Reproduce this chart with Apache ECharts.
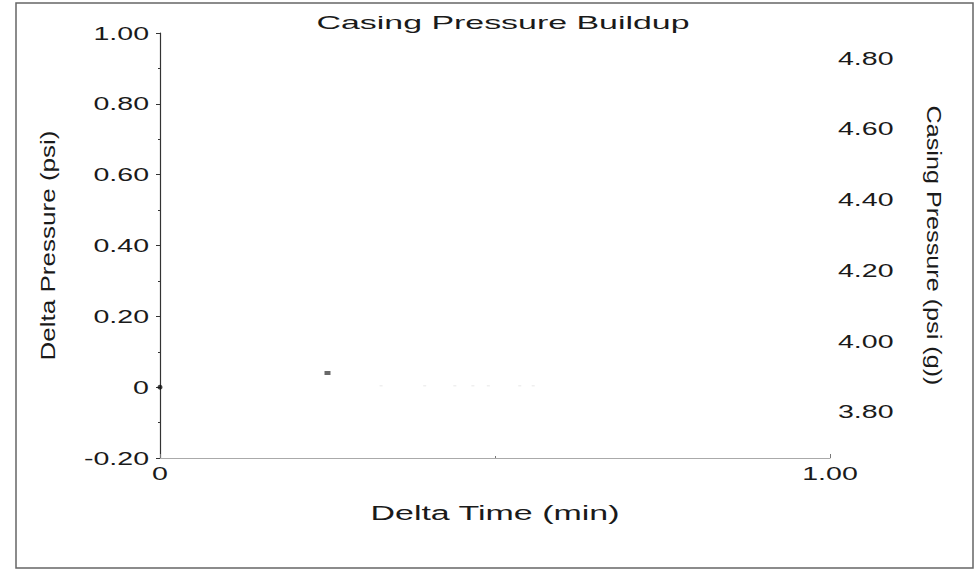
<!DOCTYPE html>
<html>
<head>
<meta charset="utf-8">
<script src="https://cdn.jsdelivr.net/npm/echarts@6/dist/echarts.min.js"></script>
<style>
  html, body { margin: 0; padding: 0; background: #fff; }
  #chart { width: 976px; height: 571px; }
</style>
</head>
<body>
<div id="chart"></div>
<script>
// ---- data ----
const titleText = 'Casing Pressure Buildup';
const xName = 'Delta Time (min)';
const yNameLeft = 'Delta Pressure (psi)';
const yNameRight = 'Casing Pressure (psi (g))';

const deltaTime = [0, 0.25];
const deltaPressure = [0, 0.04];

const fadedTime = [0.33, 0.395, 0.44, 0.467, 0.49, 0.537, 0.557];
const fadedPressure = [0.004, 0.004, 0.004, 0.004, 0.004, 0.004, 0.004];

const rightTicks = [3.8, 4.0, 4.2, 4.4, 4.6, 4.8];
const rightMin = 3.670;
const rightMax = 4.871;

const fmt = v => (Math.abs(v) < 1e-9 ? '0' : v.toFixed(2));
const FONT = 'Liberation Sans';
const TXT = '#1a1a1a';

const chart = echarts.init(document.getElementById('chart'), null, { renderer: 'svg' });

const option = {
  animation: false,
  backgroundColor: '#fff',
  title: {
    text: titleText,
    left: 498, top: 8, textAlign: 'center',
    textStyle: { fontFamily: FONT, fontSize: 19, fontWeight: 'normal', color: TXT }
  },
  graphic: [{
    type: 'rect', silent: true,
    shape: { x: 16, y: 3, width: 957, height: 565 },
    style: { fill: 'none', stroke: '#666', lineWidth: 1.5 }
  }],
  grid: { left: 160, right: 146, top: 33, bottom: 113 },
  xAxis: {
    type: 'value', min: 0, max: 1, interval: 1,
    name: xName, nameLocation: 'middle', nameGap: 45,
    nameTextStyle: { fontFamily: FONT, fontSize: 20, color: TXT },
    axisLine: { show: true, onZero: false, lineStyle: { color: '#aaa', width: 1 } },
    axisTick: { show: true, inside: true, length: 4, lineStyle: { color: '#777' } },
    minorTick: { show: true, splitNumber: 2, length: 2, lineStyle: { color: '#777' } },
    axisLabel: { fontFamily: FONT, fontSize: 19, color: TXT, margin: 6, formatter: fmt },
    splitLine: { show: false }
  },
  yAxis: [{
    type: 'value', min: -0.2, max: 1.0, interval: 0.2, position: 'left',
    name: yNameLeft, nameLocation: 'middle', nameGap: 102,
    nameTextStyle: { fontFamily: FONT, fontSize: 21, color: TXT },
    axisLine: { show: true, onZero: false, lineStyle: { color: '#333', width: 1.2 } },
    axisTick: { show: true, length: 4, lineStyle: { color: '#333' } },
    minorTick: { show: true, splitNumber: 2, length: 2, lineStyle: { color: '#333' } },
    axisLabel: { fontFamily: FONT, fontSize: 19, color: TXT, margin: 11, formatter: fmt },
    splitLine: { show: false }
  }, {
    type: 'value', min: rightMin, max: rightMax, position: 'right',
    name: yNameRight, nameLocation: 'middle', nameGap: 94, nameRotate: -90,
    nameTextStyle: { fontFamily: FONT, fontSize: 21, color: TXT },
    axisLine: { show: false },
    axisTick: { show: false },
    axisLabel: {
      fontFamily: FONT, fontSize: 19, color: TXT, margin: 8,
      customValues: rightTicks, formatter: v => v.toFixed(2)
    },
    splitLine: { show: false }
  }],
  series: [{
    type: 'scatter', yAxisIndex: 0, silent: true,
    data: fadedTime.map((t, i) => [t, fadedPressure[i]]),
    symbol: 'rect', symbolSize: [3, 1.5],
    itemStyle: { color: '#ebebeb' }
  }, {
    type: 'scatter', yAxisIndex: 0, silent: true,
    data: deltaTime.slice(0, 1).map((t, i) => [t, deltaPressure[i]]),
    symbol: 'circle', symbolSize: 5,
    itemStyle: { color: '#111' }
  }, {
    type: 'scatter', yAxisIndex: 0, silent: true,
    data: deltaTime.slice(1).map((t, i) => [t, deltaPressure[i + 1]]),
    symbol: 'rect', symbolSize: [6, 4],
    itemStyle: { color: '#444' }
  }]
};
chart.setOption(option);

// stretch text horizontally to match the scanned reference proportions
const targets = {};
targets[titleText] = 373;
targets[xName] = 249;
targets[yNameLeft] = 230;
targets[yNameRight] = 280;
function stretchTexts() {
  document.querySelectorAll('#chart svg text').forEach(t => {
    if (t.getAttribute('data-stretched')) return;
    const s = (t.textContent || '').trim();
    if (!s) return;
    const w = t.getComputedTextLength();
    if (!w) return;
    let target = targets[s];
    if (target === undefined) target = w * 1.5;
    t.setAttribute('textLength', target.toFixed(1));
    t.setAttribute('lengthAdjust', 'spacingAndGlyphs');
    t.setAttribute('data-stretched', '1');
  });
}
const zr = chart.getZr();
if (zr.refreshImmediately) zr.refreshImmediately();
stretchTexts();
chart.on('finished', stretchTexts);
</script>
</body>
</html>
